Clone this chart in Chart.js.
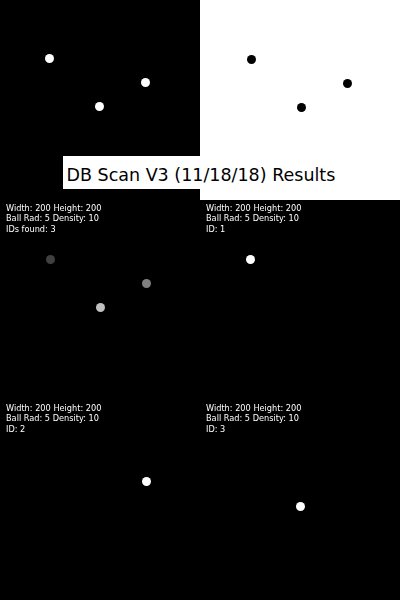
<!DOCTYPE html>
<html>
<head>
<meta charset="utf-8">
<script src="https://cdn.jsdelivr.net/npm/chart.js@4/dist/chart.umd.min.js"></script>
<style>
  html, body { margin: 0; padding: 0; background: #000; }
  #wrap { position: relative; width: 400px; height: 600px; overflow: hidden; }
  .panel { position: absolute; width: 200px; height: 200px; }
  .panel canvas { display: block; }
  #title {
    position: absolute; left: 63px; top: 156px; width: 279px; height: 33px;
    box-sizing: border-box; padding: 9px 0 4px 3.5px;
    background: #fff; color: #000;
    font-family: "DejaVu Sans", sans-serif; font-size: 17.5px; line-height: 20px;
    white-space: nowrap; z-index: 5;
  }
</style>
</head>
<body>
<div id="wrap">
  <div class="panel" style="left:0;top:0"><canvas id="c0" width="200" height="200"></canvas></div>
  <div class="panel" style="left:200px;top:0"><canvas id="c1" width="200" height="200"></canvas></div>
  <div class="panel" style="left:0;top:200px"><canvas id="c2" width="200" height="200"></canvas></div>
  <div class="panel" style="left:200px;top:200px"><canvas id="c3" width="200" height="200"></canvas></div>
  <div class="panel" style="left:0;top:400px"><canvas id="c4" width="200" height="200"></canvas></div>
  <div class="panel" style="left:200px;top:400px"><canvas id="c5" width="200" height="200"></canvas></div>
  <div id="title">DB Scan V3 (11/18/18) Results</div>
</div>
<script>
// ---- data (panel image coordinates, 200 x 200 each) ----
const titleText = 'DB Scan V3 (11/18/18) Results';
const imageWidth = 200;
const imageHeight = 200;
const ballRadius = 5;
const density = 10;

const inputX = [49.5, 145.5, 99.5];
const inputY = [58.5, 82.5, 106.5];

const invertedX = [51.5, 147.5, 101.5];
const invertedY = [59.5, 83.5, 107.5];

const clusterX = [50.5, 146.5, 100.5];
const clusterY = [59.5, 83.5, 107.5];
const clusterIds = [1, 2, 3];

const id1X = [50.5];
const id1Y = [59.5];
const id2X = [146.5];
const id2Y = [81.5];
const id3X = [100.5];
const id3Y = [106.5];

const infoLine1 = 'Width: ' + imageWidth + ' Height: ' + imageHeight;
const infoLine2 = 'Ball Rad: ' + ballRadius + ' Density: ' + density;
const infoLine3 = ['IDs found: ' + clusterIds.length, 'ID: 1', 'ID: 2', 'ID: 3'];

// ---- helpers ----
function pts(xs, ys) { return xs.map((x, i) => ({ x: x, y: ys[i] })); }
function gray(id) { const v = id * 64; return 'rgb(' + v + ',' + v + ',' + v + ')'; }

const panelPlugin = {
  id: 'panelDeco',
  beforeDraw(chart, args, opts) {
    const ctx = chart.ctx;
    ctx.save();
    ctx.fillStyle = opts.bg || '#000';
    ctx.fillRect(0, 0, chart.width, chart.height);
    ctx.restore();
  },
  afterDraw(chart, args, opts) {
    if (!opts.lines) return;
    const ctx = chart.ctx;
    ctx.save();
    ctx.fillStyle = '#fff';
    ctx.font = '8.2px "DejaVu Sans", sans-serif';
    ctx.textBaseline = 'alphabetic';
    const base = [11, 21.3, 31.5];
    opts.lines.forEach((t, i) => ctx.fillText(t, 6, base[i]));
    ctx.restore();
  }
};

function makeChart(id, bg, datasets, lines) {
  return new Chart(document.getElementById(id), {
    type: 'scatter',
    data: { datasets: datasets },
    options: {
      responsive: false,
      devicePixelRatio: 1,
      animation: false,
      events: [],
      layout: { padding: 0, autoPadding: false },
      scales: {
        x: { type: 'linear', min: 0, max: imageWidth, display: false },
        y: { type: 'linear', min: 0, max: imageHeight, reverse: true, display: false }
      },
      plugins: {
        legend: { display: false },
        tooltip: { enabled: false },
        panelDeco: { bg: bg, lines: lines }
      }
    },
    plugins: [panelPlugin]
  });
}

function ds(data, color) {
  return { data: data, pointRadius: 4.5, pointBorderWidth: 0, pointBackgroundColor: color, pointBorderColor: color, showLine: false, clip: false };
}

makeChart('c0', '#000', [ds(pts(inputX, inputY), '#fff')], null);
makeChart('c1', '#fff', [ds(pts(invertedX, invertedY), '#000')], null);
makeChart('c2', '#000', [ds(pts(clusterX, clusterY), clusterIds.map(gray))], [infoLine1, infoLine2, infoLine3[0]]);
makeChart('c3', '#000', [ds(pts(id1X, id1Y), '#fff')], [infoLine1, infoLine2, infoLine3[1]]);
makeChart('c4', '#000', [ds(pts(id2X, id2Y), '#fff')], [infoLine1, infoLine2, infoLine3[2]]);
makeChart('c5', '#000', [ds(pts(id3X, id3Y), '#fff')], [infoLine1, infoLine2, infoLine3[3]]);
</script>
</body>
</html>
